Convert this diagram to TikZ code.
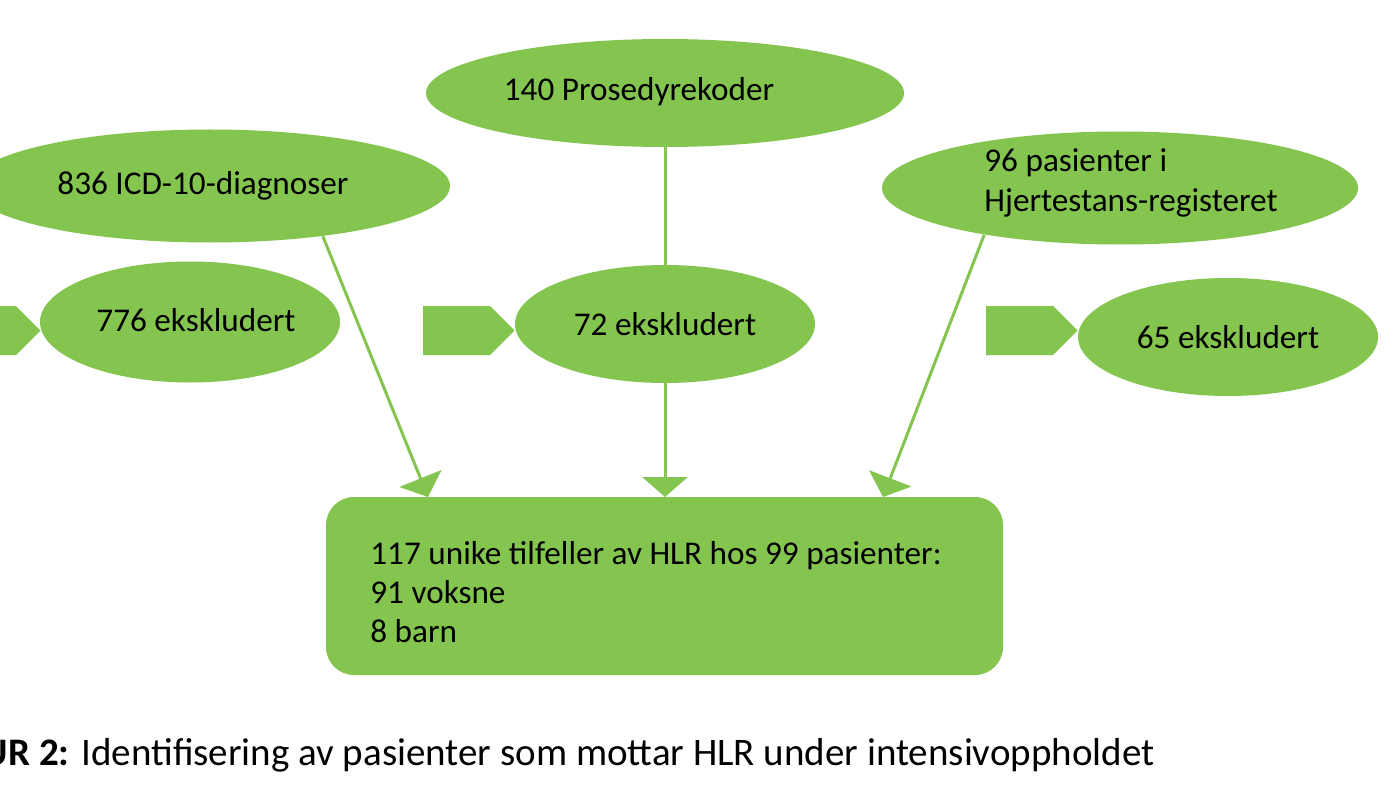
\documentclass[tikz,border=0pt]{standalone}
\usepackage{fontspec}
\setmainfont{Carlito}
\usetikzlibrary{arrows.meta,shapes.geometric}
\definecolor{gr}{RGB}{132,197,80}
\begin{document}
\begin{tikzpicture}[x=0.5pt,y=-0.5pt,
 txtfont/.style={font=\fontsize{16.6}{19.6}\selectfont},
 ell/.style={ellipse,fill=gr,inner sep=0pt,txtfont},
 pent/.style={fill=gr},
 conn/.style={draw=gr,line width=1.5pt},
 arr/.style={conn,-{Triangle[width=22.5pt,length=10pt]}},
 boxst/.style={rectangle,rounded corners=14pt,fill=gr,inner sep=0pt,minimum width=338.5pt,minimum height=89pt},
 txt/.style={inner sep=0pt,align=left,txtfont},
 capst/.style={inner sep=0pt,anchor=base east,font=\fontsize{19.5}{23}\selectfont}
]
\clip (0,0) rectangle (1400,786);
\fill[white] (0,0) rectangle (1400,786);
% top ellipses
\node[ell,minimum width=239pt,minimum height=54pt] (proc) at (665,93) {};
\node[txt] (proctxt) at (639,92) {140 Prosedyrekoder};
\node[ell,minimum width=240pt,minimum height=56.5pt] (icd) at (210,186) {};
\node[txt] (icdtxt) at (203,186) {836 ICD-10-diagnoser};
\node[ell,minimum width=238pt,minimum height=56.5pt] (reg) at (1120,188) {};
\node[txt] (regtxt) at (1131,183) {96 pasienter i\\Hjertestans-registeret};
% box
\node[boxst] (box) at (664.5,586) {};
\node[txt,anchor=west] (boxtxt) at (370,592) {117 unike tilfeller av HLR hos 99 pasienter:\\91 voksne\\8 barn};
% exclusion ellipses
\node[ell,minimum width=150pt,minimum height=60.5pt] (ex1) at (190,322) {};
\node[txt] (ex1txt) at (196,320) {776 ekskludert};
\node[ell,minimum width=150pt,minimum height=59pt] (ex2) at (665,324) {72 ekskludert};
\node[ell,minimum width=150pt,minimum height=59pt] (ex3) at (1228,337) {65 ekskludert};
% pentagon arrows
\fill[pent] (-51,306) -- (16,306) -- (40.5,330.5) -- (16,355) -- (-51,355) -- cycle;
\fill[pent] (423,306) -- (490,306) -- (514.5,330.5) -- (490,355) -- (423,355) -- cycle;
\fill[pent] (986,306) -- (1053,306) -- (1077.5,330.5) -- (1053,355) -- (986,355) -- cycle;
% connector ends
\coordinate (t1) at (428,497);
\coordinate (t2) at (665,497);
\coordinate (t3) at (883,497);
\draw[arr] (icd.-24.3) -- (t1);
\draw[conn] (proc.south) -- (ex2.north);
\draw[arr] (ex2.south) -- (t2);
\draw[arr] (reg.199.3) -- (t3);
% caption
\node[capst] (cap) at (1155,765) {\textbf{FIGUR 2:} Identifisering av pasienter som mottar HLR under intensivoppholdet};
\end{tikzpicture}
\end{document}
